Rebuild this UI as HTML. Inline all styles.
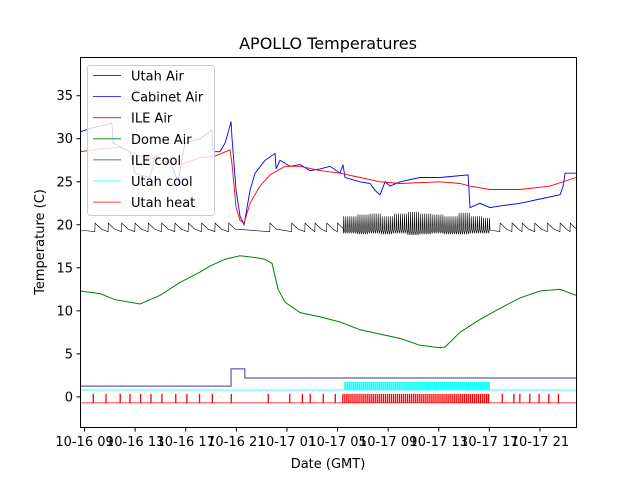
<!DOCTYPE html>
<html><head><meta charset="utf-8"><style>
body{margin:0;background:#fff;}
svg text{font-family:"DejaVu Sans","Liberation Sans",sans-serif;fill:#000;}
</style></head><body>
<svg id="chart" width="640" height="480" xmlns="http://www.w3.org/2000/svg">
<rect width="640" height="480" fill="#fff"/>
<text x="328" y="49" font-size="16" text-anchor="middle">APOLLO Temperatures</text>
<g id="plot"></g>
<rect x="80.5" y="57.5" width="496" height="370" fill="none" stroke="#000" stroke-width="1"/>
<g id="axes"></g>
<text x="328" y="468" font-size="13" text-anchor="middle">Date (GMT)</text>
<text transform="translate(44,242) rotate(-90)" font-size="13" text-anchor="middle">Temperature (C)</text>
<g id="legend"></g>
</svg>
<script>
// time in hours since 10-16 09:00 GMT
const xTickLabels=["10-16 09","10-16 13","10-16 17","10-16 21","10-17 01","10-17 05","10-17 09","10-17 13","10-17 17","10-17 21"];
const xTickHours=[0,4,8,12,16,20,24,28,32,36];
const yTicks=[0,5,10,15,20,25,30,35];
const domeT=[-0.36,1.23,2.41,4.39,5.97,7.55,9.13,9.92,11.11,12.29,13.48,14.27,14.82,15.3,15.85,17.04,18.62,20.2,21.78,23.36,24.94,26.52,28.1,28.5,29.68,31.26,32.85,34.43,36.01,37.59,38.85];
const domeV=[12.3,12.0,11.3,10.8,11.8,13.3,14.5,15.2,16.0,16.4,16.2,16.0,15.5,12.5,11,9.8,9.3,8.7,7.8,7.3,6.8,6.0,5.7,5.8,7.5,9.0,10.3,11.5,12.3,12.5,11.8];
const cabT=[-0.36,0.43,2.17,2.25,3.6,3.99,4.39,5.18,5.57,6.76,7.39,7.94,9.13,10.08,10.16,10.71,11.11,11.5,11.58,11.66,11.98,12.29,12.61,13.08,13.48,14.27,15.06,15.14,15.45,16.25,17.04,17.83,18.62,19.41,20.2,20.43,20.59,21.78,22.57,22.96,23.36,23.76,24.15,24.94,26.52,28.1,30.32,30.47,31.26,32.05,32.85,34.43,36.01,37.59,37.83,37.99,38.85];
const cabV=[30.8,31.2,31.8,29.5,28.5,26,25.8,25.5,28,27.5,25,29.5,30,31,28.5,28.5,29.5,31.5,32,30,24,21,20,24,26,27.5,28.3,26.5,27.5,26.8,27,26.3,26.5,26.8,26,27,25.5,25,24.8,24,23.5,25,24.5,25,25.5,25.5,25.8,22,22.5,22,22.2,22.5,23,23.5,24.5,26,26];
const ileT=[-0.36,1.23,2.81,4.39,5.97,7.55,9.13,10.32,11.5,11.66,11.98,12.29,12.61,13.08,13.87,14.66,15.85,17.04,18.62,20.2,21.78,23.36,24.94,28.1,29.68,30.47,32.05,34.43,36.8,38.85];
const ileV=[28.5,28.8,29,28,27.5,27,27.8,28,28.7,27,22,20.5,20.2,22.5,24.5,25.8,26.8,26.8,26.3,26,25.5,25,24.8,25,24.8,24.5,24.1,24.1,24.5,25.5];
const utahToothT=[0.83,1.88,2.94,3.99,5.04,6.1,7.15,8.21,9.26,10.32,11.4,14.66,16.38,17.43,18.22,19.15,20.0,32.85,33.8,34.6,35.6,36.6,37.6,38.4];
const utahDenseStart=20.45, utahDenseEnd=32.05;
const utahDenseHi=[21.0,21.2,21.3,21.0,21.3,21.5,21.3,21.2,21.0,21.4,21.0,20.8];
const utahDenseLo=[19.0,18.9,19.0,18.9,19.0,18.8,18.9,19.0,18.9,18.9,19.0,19.0];
const ileCoolT=[-0.36,11.58,11.58,12.67,12.67,38.85];
const ileCoolV=[1.25,1.25,3.25,3.25,2.2,2.2];
const heatPulseT=[0.67,1.68,2.8,3.57,4.41,5.23,6.1,7.19,8.07,9.07,10.08,11.58,14.5,16.2,17.2,17.82,18.85,19.8,31.9,33.0,33.92,34.39,35.18,35.91,36.68,37.44];
const heatDenseStart=20.4, heatDenseEnd=31.95;
const coolDenseStart=20.57, coolDenseEnd=32.08;
const heatBase=-0.7, heatOn=0.3, coolBase=0.8, coolOn=1.7, utahBase=19.2, utahPeak=20.2;

const X0=-0.36,X1=38.85,PX0=80,PX1=576,Y0=-3.5,Y1=39.5,PY0=427,PY1=57;
const xs=t=>PX0+(t-X0)/(X1-X0)*(PX1-PX0);
const ys=v=>PY0+(v-Y0)/(Y1-Y0)*(PY1-PY0);
const NS="http://www.w3.org/2000/svg";
const plot=document.getElementById('plot'),axes=document.getElementById('axes'),legend=document.getElementById('legend');
function line(pts,color,name,w){
  const p=document.createElementNS(NS,'polyline');
  p.setAttribute('points',pts.map(q=>xs(q[0]).toFixed(2)+','+ys(q[1]).toFixed(1)).join(' '));
  p.setAttribute('fill','none');p.setAttribute('stroke',color);p.setAttribute('stroke-width',w||1);
  
  
  plot.appendChild(p);
}
const zip=(T,V)=>T.map((t,i)=>[t,V[i]]);
// Utah heat
{let pts=[[X0,heatBase]];
 const all=heatPulseT.slice();
 for(let t=heatDenseStart;t<=heatDenseEnd;t+=0.16)all.push(t);
 all.sort((a,b)=>a-b);
 all.forEach(t=>{pts.push([t,heatBase],[t,heatOn],[t+0.04,heatOn],[t+0.04,heatBase]);});
 pts.push([X1,heatBase]);line(pts,'#ff0000','utah-heat-line',0.8);}
// Utah cool
{let pts=[[X0,coolBase],[coolDenseStart,coolBase]];
 for(let t=coolDenseStart;t<=coolDenseEnd;t+=0.16)pts.push([t,coolBase],[t,coolOn],[t+0.07,coolOn],[t+0.07,coolBase]);
 pts.push([X1,coolBase]);line(pts,'#00ffff','utah-cool-line',0.8);}
line(zip(ileCoolT,ileCoolV),'#3a3a9a','ile-cool-line');
line(zip(domeT,domeV),'#008000','dome-air-line');
// Utah air
{let pts=[[X0,19.4]];
 const pre=utahToothT.filter(t=>t<utahDenseStart),post=utahToothT.filter(t=>t>utahDenseEnd);
 pre.forEach(t=>{pts.push([t-0.02,utahBase],[t,utahPeak],[t+0.5,19.5]);});
 for(let t=utahDenseStart;t<=utahDenseEnd;t+=0.16){
   const k=Math.min(utahDenseHi.length-1,Math.floor(t-utahDenseStart));
   pts.push([t,utahDenseLo[k]],[t+0.04,utahDenseHi[k]],[t+0.08,utahDenseLo[k]+0.4]);}
 post.forEach(t=>{pts.push([t-0.02,utahBase],[t,utahPeak],[t+0.5,19.5]);});
 pts.push([X1,19.3]);line(pts,'#000','utah-air-line',0.6);}
line(zip(cabT,cabV),'#0000ff','cabinet-air-line',0.9);
line(zip(ileT,ileV),'#ff0000','ile-air-line',0.9);
// axes
yTicks.forEach(v=>{const y=ys(v);
 const l=document.createElementNS(NS,'line');l.setAttribute('x1',76.5);l.setAttribute('x2',80.5);l.setAttribute('y1',y);l.setAttribute('y2',y);l.setAttribute('stroke','#000');
 
 axes.appendChild(l);
 const tx=document.createElementNS(NS,'text');tx.setAttribute('x',73);tx.setAttribute('y',y+4.5);tx.setAttribute('font-size','13');tx.setAttribute('text-anchor','end');tx.textContent=v;
 
 axes.appendChild(tx);});
xTickHours.forEach((h,i)=>{const x=xs(h);
 const l=document.createElementNS(NS,'line');l.setAttribute('x1',x);l.setAttribute('x2',x);l.setAttribute('y1',427.5);l.setAttribute('y2',431.5);l.setAttribute('stroke','#000');
 
 axes.appendChild(l);
 const tx=document.createElementNS(NS,'text');tx.setAttribute('x',x);tx.setAttribute('y',446);tx.setAttribute('font-size','13');tx.setAttribute('text-anchor','middle');tx.textContent=xTickLabels[i];
 
 axes.appendChild(tx);});
// legend
const legNames=["Utah Air","Cabinet Air","ILE Air","Dome Air","ILE cool","Utah cool","Utah heat"];
const legColors=["#000","#0000ff","#ff0000","#008000","#3a3a9a","#00ffff","#ff0000"];
{const r=document.createElementNS(NS,'rect');r.setAttribute('x',87.5);r.setAttribute('y',65.5);r.setAttribute('width',127);r.setAttribute('height',150);r.setAttribute('rx',3);
 r.setAttribute('fill','rgba(255,255,255,0.8)');r.setAttribute('stroke','#ccc');
 
 legend.appendChild(r);}
legNames.forEach((n,i)=>{const y=75.5+i*21.1;
 const l=document.createElementNS(NS,'line');l.setAttribute('x1',93);l.setAttribute('x2',121);l.setAttribute('y1',y);l.setAttribute('y2',y);l.setAttribute('stroke',legColors[i]);l.setAttribute('stroke-width',0.8);
 
 legend.appendChild(l);
 const tx=document.createElementNS(NS,'text');tx.setAttribute('x',131);tx.setAttribute('y',y+5);tx.setAttribute('font-size','13');tx.textContent=n;
 
 legend.appendChild(tx);});
</script>
</body></html>
